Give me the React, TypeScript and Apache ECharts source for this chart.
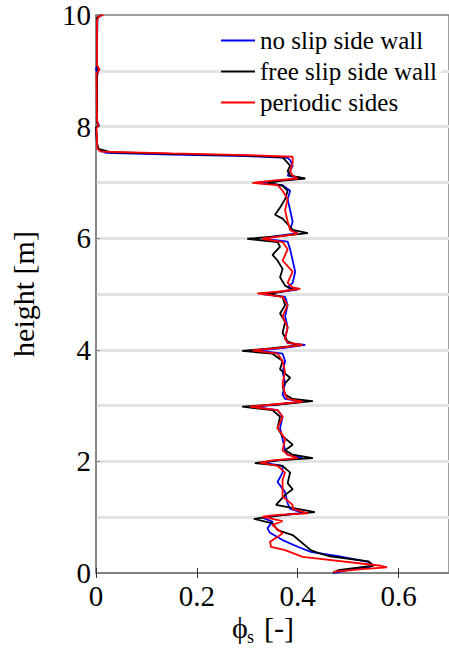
import React, { useEffect, useRef } from "react";
import * as echarts from "echarts";

const seriesNames = ["no slip side wall", "free slip side wall", "periodic sides"];
const seriesColors = ["#0000ff", "#000000", "#ff0000"];

// [phi_s, height]
const noSlip: [number, number][] = [
  [0.012, 10], [0.003, 9.95], [0.002, 9.5], [0.002, 9.1], [0.0, 9.02], [0.004, 8.97], [0.002, 8.9],
  [0.002, 8.1], [0.006, 8.02], [0.0, 7.98], [0.002, 7.7], [0.004, 7.6], [0.02, 7.53], [0.15, 7.5],
  [0.3, 7.47], [0.38, 7.44], [0.385, 7.4], [0.39, 7.3], [0.385, 7.2], [0.38, 7.12], [0.41, 7.07],
  [0.36, 7.03], [0.32, 6.99], [0.37, 6.95], [0.385, 6.85], [0.38, 6.7], [0.385, 6.5], [0.39, 6.3],
  [0.385, 6.15], [0.4, 6.09], [0.35, 6.03], [0.33, 5.99], [0.38, 5.94], [0.385, 5.8], [0.39, 5.6],
  [0.395, 5.4], [0.39, 5.2], [0.38, 5.12], [0.4, 5.08], [0.36, 5.03], [0.33, 5.0], [0.375, 4.95],
  [0.38, 4.8], [0.375, 4.6], [0.38, 4.4], [0.375, 4.2], [0.38, 4.12], [0.415, 4.09], [0.37, 4.03],
  [0.32, 3.99], [0.37, 3.93], [0.375, 3.8], [0.37, 3.6], [0.375, 3.4], [0.37, 3.2], [0.375, 3.12],
  [0.41, 3.07], [0.36, 3.02], [0.31, 2.98], [0.36, 2.92], [0.37, 2.8], [0.365, 2.6], [0.37, 2.4],
  [0.375, 2.2], [0.38, 2.12], [0.41, 2.06], [0.36, 2.02], [0.33, 1.98], [0.37, 1.92], [0.37, 1.8],
  [0.36, 1.63], [0.375, 1.45], [0.38, 1.25], [0.385, 1.15], [0.41, 1.08], [0.36, 1.03], [0.33, 0.99],
  [0.35, 0.92], [0.34, 0.8], [0.345, 0.72], [0.37, 0.59], [0.4, 0.47], [0.426, 0.38], [0.48, 0.3],
  [0.54, 0.2], [0.55, 0.14], [0.54, 0.1], [0.5, 0.05], [0.47, 0.0],
];

const freeSlip: [number, number][] = [
  [0.01, 10], [0.002, 9.95], [0.002, 9.1], [0.004, 9.02], [0.002, 8.95], [0.002, 8.1], [0.004, 8.02],
  [0.0, 7.98], [0.002, 7.7], [0.005, 7.6], [0.03, 7.54], [0.15, 7.51], [0.3, 7.48], [0.37, 7.45],
  [0.375, 7.4], [0.385, 7.3], [0.38, 7.2], [0.385, 7.12], [0.415, 7.07], [0.37, 7.03], [0.34, 6.99],
  [0.37, 6.94], [0.38, 6.85], [0.375, 6.7], [0.365, 6.55], [0.355, 6.42], [0.37, 6.35], [0.38, 6.25],
  [0.39, 6.15], [0.42, 6.09], [0.37, 6.04], [0.3, 5.99], [0.36, 5.93], [0.365, 5.85], [0.35, 5.7],
  [0.36, 5.6], [0.37, 5.45], [0.365, 5.3], [0.375, 5.15], [0.39, 5.08], [0.36, 5.03], [0.34, 5.0],
  [0.37, 4.95], [0.375, 4.8], [0.365, 4.65], [0.375, 4.5], [0.37, 4.3], [0.38, 4.15], [0.4, 4.08],
  [0.35, 4.03], [0.29, 3.98], [0.35, 3.93], [0.37, 3.8], [0.365, 3.65], [0.385, 3.5], [0.37, 3.35],
  [0.375, 3.2], [0.39, 3.12], [0.43, 3.08], [0.36, 3.02], [0.29, 2.98], [0.35, 2.92], [0.365, 2.8],
  [0.36, 2.6], [0.37, 2.45], [0.39, 2.3], [0.375, 2.2], [0.39, 2.12], [0.43, 2.06], [0.36, 2.02],
  [0.315, 1.97], [0.37, 1.92], [0.385, 1.8], [0.38, 1.61], [0.39, 1.5], [0.375, 1.4], [0.357, 1.22],
  [0.394, 1.16], [0.434, 1.09], [0.36, 1.03], [0.313, 0.97], [0.35, 0.89], [0.36, 0.77], [0.39, 0.68],
  [0.426, 0.41], [0.44, 0.36], [0.464, 0.3], [0.54, 0.21], [0.55, 0.13], [0.48, 0.05], [0.47, 0.0],
];

const periodic: [number, number][] = [
  [0.015, 10], [0.005, 9.97], [0.002, 9.9], [0.002, 9.1], [0.007, 9.02], [0.001, 8.95], [0.002, 8.1],
  [0.005, 8.02], [0.001, 7.97], [0.002, 7.7], [0.003, 7.6], [0.01, 7.55], [0.15, 7.52], [0.3, 7.49],
  [0.39, 7.46], [0.39, 7.35], [0.385, 7.2], [0.39, 7.12], [0.4, 7.07], [0.35, 7.03], [0.31, 6.99],
  [0.36, 6.95], [0.37, 6.85], [0.38, 6.7], [0.375, 6.5], [0.38, 6.3], [0.385, 6.15], [0.4, 6.08],
  [0.36, 6.03], [0.33, 5.99], [0.37, 5.93], [0.38, 5.8], [0.37, 5.6], [0.39, 5.4], [0.38, 5.2],
  [0.39, 5.12], [0.405, 5.09], [0.36, 5.04], [0.32, 5.01], [0.37, 4.95], [0.38, 4.8], [0.37, 4.6],
  [0.38, 4.4], [0.375, 4.2], [0.38, 4.13], [0.41, 4.09], [0.36, 4.03], [0.31, 3.99], [0.36, 3.93],
  [0.37, 3.8], [0.375, 3.6], [0.37, 3.4], [0.375, 3.2], [0.38, 3.12], [0.41, 3.07], [0.35, 3.02],
  [0.305, 2.98], [0.36, 2.92], [0.37, 2.8], [0.36, 2.6], [0.375, 2.4], [0.37, 2.2], [0.38, 2.12],
  [0.4, 2.06], [0.35, 2.02], [0.325, 1.98], [0.36, 1.92], [0.375, 1.8], [0.37, 1.67], [0.37, 1.37],
  [0.39, 1.22], [0.39, 1.15], [0.42, 1.07], [0.36, 1.04], [0.33, 1.01], [0.37, 0.93], [0.35, 0.86],
  [0.37, 0.71], [0.345, 0.56], [0.347, 0.47], [0.375, 0.41], [0.41, 0.29], [0.565, 0.13],
  [0.577, 0.1], [0.527, 0.07], [0.47, 0.02],
];

const profiles = [noSlip, freeSlip, periodic];

export default function App() {
  const ref = useRef<HTMLDivElement>(null);
  useEffect(() => {
    const chart = echarts.init(ref.current!, null, { renderer: "svg" });
    const serif = "'Liberation Serif', 'Times New Roman', Times, serif";
    const axisGrey = "#808080";
    const gridColors = Array.from({ length: 11 }, (_, i) =>
      i === 0 || i === 10 ? "rgba(0,0,0,0)" : "#e3e3e3"
    );
    chart.setOption({
      animation: false,
      backgroundColor: "#ffffff",
      grid: {
        left: 81,
        right: -3,
        top: 15,
        bottom: 76,
        containLabel: false,
        show: true,
        borderColor: axisGrey,
        borderWidth: 1.5,
        backgroundColor: "transparent",
      },
      xAxis: [
        {
          type: "value",
          min: 0,
          max: 0.7,
          interval: 0.2,
          position: "bottom",
          axisLine: { show: true, lineStyle: { color: axisGrey, width: 1.5 } },
          axisTick: { show: true, inside: true, length: 5, lineStyle: { color: "#333" } },
          axisLabel: { fontFamily: serif, fontSize: 29, color: "#000", margin: 8, showMaxLabel: false },
          splitLine: { show: false },
        },
        {
          type: "value",
          min: 0,
          max: 0.7,
          interval: 0.2,
          position: "top",
          axisLine: { show: true, lineStyle: { color: axisGrey, width: 1.5 } },
          axisTick: { show: true, inside: true, length: 5, lineStyle: { color: "#333" } },
          axisLabel: { show: false },
          splitLine: { show: false },
        },
      ],
      yAxis: [
        {
          type: "value",
          min: 0,
          max: 10,
          interval: 2,
          position: "left",
          axisLine: { show: true, lineStyle: { color: axisGrey, width: 1.5 } },
          axisTick: { show: true, inside: true, length: 4, lineStyle: { color: axisGrey } },
          axisLabel: { fontFamily: serif, fontSize: 29, color: "#000", margin: 5 },
          splitLine: { show: false },
          name: "height [m]",
          nameLocation: "middle",
          nameGap: 58,
          nameTextStyle: { fontFamily: serif, fontSize: 30, color: "#000" },
        },
        {
          type: "value",
          min: 0,
          max: 10,
          interval: 1,
          position: "right",
          axisLine: { show: false },
          axisTick: { show: false },
          axisLabel: { show: false },
          splitLine: { show: true, lineStyle: { color: gridColors, width: 3 } },
        },
      ],
      legend: {
        orient: "vertical",
        left: 221,
        top: 26,
        icon: "rect",
        itemWidth: 34,
        itemHeight: 2,
        itemGap: 6,
        backgroundColor: "#ffffff",
        padding: [2, 4, 2, 0],
        textStyle: { fontFamily: serif, fontSize: 25, color: "#000", lineHeight: 25 },
        data: seriesNames,
      },
      graphic: [
        {
          type: "text",
          x: 232,
          y: 627,
          style: { text: "ϕ", font: `30px ${serif}`, fill: "#000", verticalAlign: "middle" },
        },
        {
          type: "text",
          x: 247,
          y: 637,
          style: { text: "s", font: `18px ${serif}`, fill: "#000", verticalAlign: "middle" },
        },
        {
          type: "text",
          x: 264,
          y: 627,
          style: { text: "[-]", font: `30px ${serif}`, fill: "#000", verticalAlign: "middle" },
        },
      ],
      series: profiles.map((d, i) => ({
        type: "line",
        name: seriesNames[i],
        xAxisIndex: 0,
        yAxisIndex: 0,
        data: d,
        symbol: "none",
        showSymbol: false,
        color: seriesColors[i],
        lineStyle: { color: seriesColors[i], width: 1.8 },
        z: 3 + i,
      })),
    });
    return () => chart.dispose();
  }, []);
  return (
    <div
      ref={ref}
      style={{ position: "fixed", left: 0, top: 0, width: 449, height: 649, background: "#fff" }}
    />
  );
}
